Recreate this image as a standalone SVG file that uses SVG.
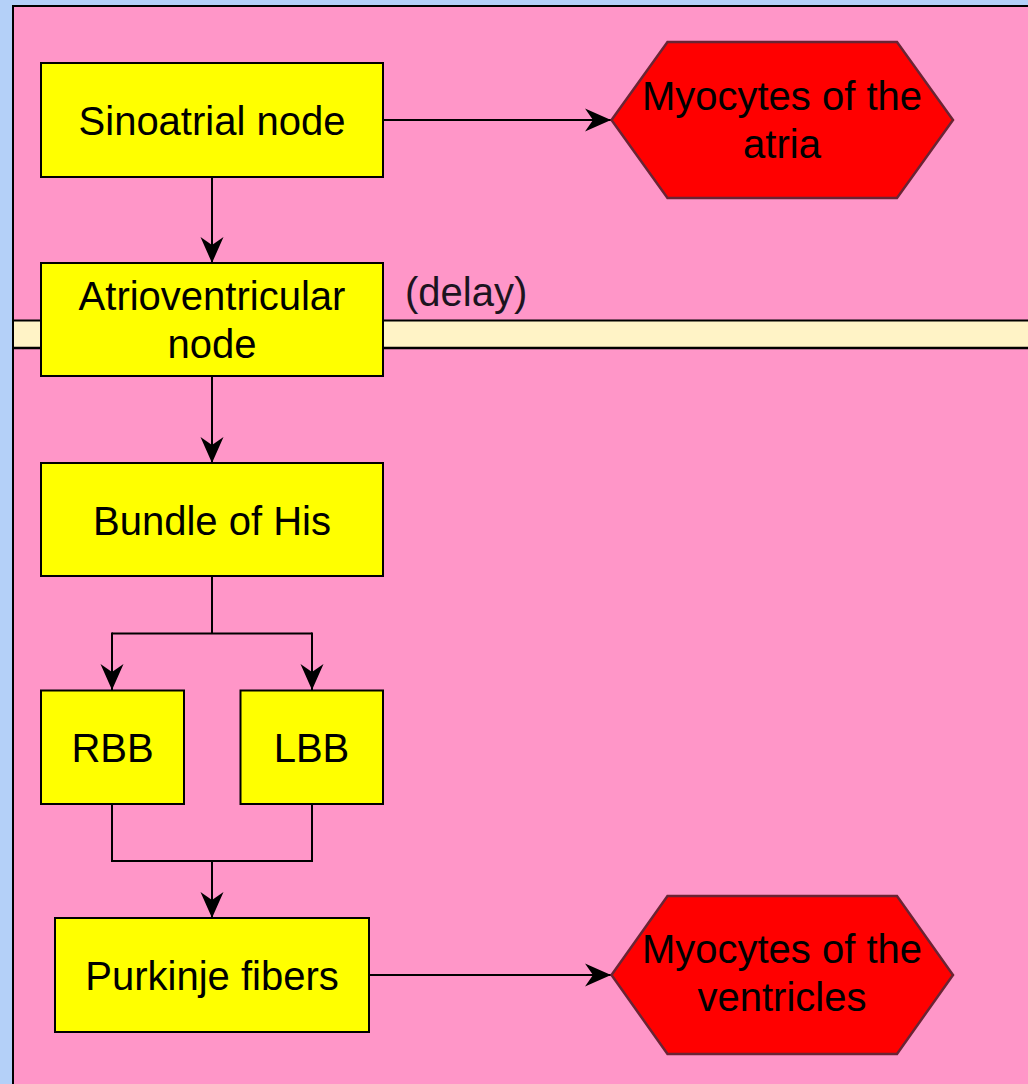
<svg xmlns="http://www.w3.org/2000/svg" width="1028" height="1084" viewBox="0 0 1028 1084">
  <style>
    .box { fill: #ffff00; stroke: #000; stroke-width: 2; }
    .hex { fill: #ff0000; stroke: #6a2434; stroke-width: 2.5; stroke-linejoin: miter; }
    .lbl { font-family: "Liberation Sans", Arial, sans-serif; font-size: 40px; fill: #000; text-anchor: middle; }
    .note { font-family: "Liberation Sans", Arial, sans-serif; font-size: 40px; fill: #1c1420; }
    .wire { fill: none; stroke: #000; stroke-width: 2; }
    .arrow { marker-end: url(#head); }
  </style>
  <defs>
    <marker id="head" markerUnits="userSpaceOnUse" viewBox="0 0 26 24" markerWidth="26" markerHeight="24" refX="26" refY="12" orient="auto">
      <path d="M0,0.5 L26,12 L0,23.5 L8,12 Z" fill="#000"/>
    </marker>
  </defs>

  <!-- page background and pool -->
  <rect x="0" y="0" width="1028" height="1084" fill="#b4d0f8"/>
  <rect x="13" y="6" width="1030" height="1090" fill="#ff96c8" stroke="#000" stroke-width="2"/>

  <!-- delay lane -->
  <g id="delay-lane">
    <rect x="14" y="320.5" width="1014" height="27.5" fill="#fff3c6"/>
    <line x1="14" y1="320.5" x2="1028" y2="320.5" stroke="#000" stroke-width="2"/>
    <line x1="14" y1="348" x2="1028" y2="348" stroke="#000" stroke-width="2.5"/>
  </g>

  <!-- connectors -->
  <g id="connectors">
    <path class="wire arrow" d="M212,177 L212,263"/>
    <path class="wire arrow" d="M383,120 L611,120"/>
    <path class="wire arrow" d="M212,376 L212,463"/>
    <path class="wire" d="M212,576 L212,633.5 M112,633.5 L312,633.5"/>
    <path class="wire arrow" d="M112,632.5 L112,690"/>
    <path class="wire arrow" d="M312,632.5 L312,690"/>
    <path class="wire" d="M112,804 L112,861 L312,861 L312,804"/>
    <path class="wire arrow" d="M212,861 L212,918"/>
    <path class="wire arrow" d="M369,975 L611,975"/>
  </g>

  <g id="sinoatrial">
    <rect class="box" x="41" y="63" width="342" height="114"/>
    <text class="lbl" x="212" y="135">Sinoatrial node</text>
  </g>

  <g id="atria">
    <polygon class="hex" points="611.5,120 667.5,42 897,42 953,120 897,198 667.5,198"/>
    <text class="lbl" x="782" y="110">Myocytes of the</text>
    <text class="lbl" x="782" y="158">atria</text>
  </g>

  <g id="av-node">
    <rect class="box" x="41" y="263" width="342" height="113"/>
    <text class="lbl" x="212" y="310">Atrioventricular</text>
    <text class="lbl" x="212" y="358">node</text>
  </g>

  <text id="delay" class="note" x="405" y="306">(delay)</text>

  <g id="bundle-of-his">
    <rect class="box" x="41" y="463" width="342" height="113"/>
    <text class="lbl" x="212" y="535">Bundle of His</text>
  </g>

  <g id="rbb">
    <rect class="box" x="41" y="690.5" width="143" height="113.5"/>
    <text class="lbl" x="112.5" y="762">RBB</text>
  </g>

  <g id="lbb">
    <rect class="box" x="240.5" y="690.5" width="142.5" height="113.5"/>
    <text class="lbl" x="311.5" y="762">LBB</text>
  </g>

  <g id="purkinje">
    <rect class="box" x="55" y="918" width="314" height="114"/>
    <text class="lbl" x="212" y="990">Purkinje fibers</text>
  </g>

  <g id="ventricles">
    <polygon class="hex" points="611.5,975 667.5,896 897,896 953,975 897,1054 667.5,1054"/>
    <text class="lbl" x="782" y="963">Myocytes of the</text>
    <text class="lbl" x="782" y="1011">ventricles</text>
  </g>
</svg>
